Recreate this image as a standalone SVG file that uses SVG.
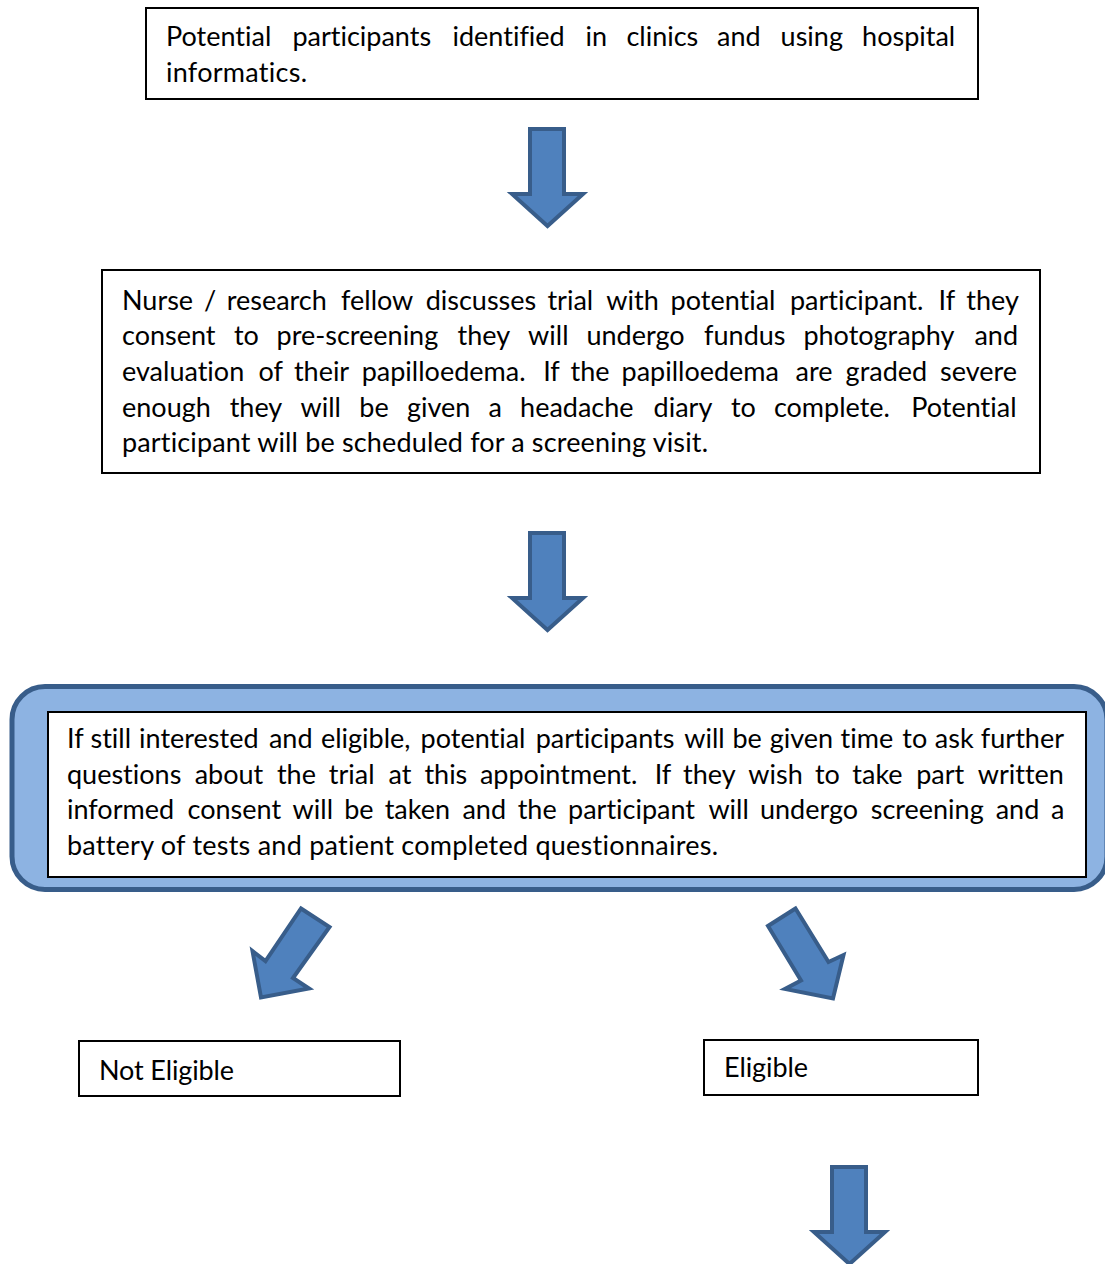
<svg xmlns="http://www.w3.org/2000/svg" xmlns:xlink="http://www.w3.org/1999/xlink" width="1105" height="1264" viewBox="0 0 1105 1264">
<style>
.box{fill:#ffffff;stroke:#000000;stroke-width:2}
.t{font-family:Lato,"Liberation Sans",sans-serif;font-size:27px;fill:#000000;font-variant-ligatures:none;font-feature-settings:"liga" 0,"clig" 0,"dlig" 0}
.arrow{fill:#4F81BD;stroke:#385D8A;stroke-width:4;stroke-linejoin:miter}
.panel{fill:#8DB3E2;stroke:#385D8A;stroke-width:5}
</style>
<defs>
<polygon id="downArrow" points="530,129 564,129 564,194 583,194 547.5,226 512,194 530,194"/>
</defs>
<rect width="1105" height="1264" fill="#ffffff"/>

<g id="node-identified">
<rect class="box" x="146" y="8" width="832" height="91"/>
<text class="t" y="46"><tspan x="166">Potential</tspan><tspan x="292.4">participants</tspan><tspan x="452.5">identified</tspan><tspan x="585.5">in</tspan><tspan x="626.4">clinics</tspan><tspan x="717">and</tspan><tspan x="780.6">using</tspan><tspan x="862.1">hospital</tspan></text>
<text class="t" x="166" y="81.7" textLength="141" lengthAdjust="spacing">informatics.</text>
</g>

<g id="node-prescreening">
<rect class="box" x="102" y="270" width="938" height="203"/>
<text class="t" y="309.5"><tspan x="122">Nurse</tspan><tspan x="204">/</tspan><tspan x="226.7">research</tspan><tspan x="341">fellow</tspan><tspan x="425.7">discusses</tspan><tspan x="547.4">trial</tspan><tspan x="606.3">with</tspan><tspan x="670.6">potential</tspan><tspan x="789.9">participant.</tspan><tspan x="938.6">If</tspan><tspan x="966.3">they</tspan></text>
<text class="t" y="345.2"><tspan x="122">consent</tspan><tspan x="233.9">to</tspan><tspan x="276.5">pre-screening</tspan><tspan x="457.6">they</tspan><tspan x="528.1">will</tspan><tspan x="586.5">undergo</tspan><tspan x="704.1">fundus</tspan><tspan x="803.4">photography</tspan><tspan x="974.4">and</tspan></text>
<text class="t" y="380.9"><tspan x="122">evaluation</tspan><tspan x="258.4">of</tspan><tspan x="293.9">their</tspan><tspan x="361.7">papilloedema.</tspan><tspan x="543.2">If</tspan><tspan x="570.6">the</tspan><tspan x="621.5">papilloedema</tspan><tspan x="795.6">are</tspan><tspan x="845.6">graded</tspan><tspan x="940.1">severe</tspan></text>
<text class="t" y="416.6"><tspan x="122">enough</tspan><tspan x="229.7">they</tspan><tspan x="300.5">will</tspan><tspan x="359.3">be</tspan><tspan x="407">given</tspan><tspan x="488.4">a</tspan><tspan x="520.1">headache</tspan><tspan x="653.6">diary</tspan><tspan x="730.9">to</tspan><tspan x="773.9">complete.</tspan><tspan x="911.3">Potential</tspan></text>
<text class="t" x="122" y="452.3" textLength="586" lengthAdjust="spacing">participant will be scheduled for a screening visit.</text>
</g>

<g id="node-screening">
<rect class="panel" x="12" y="686.5" width="1095" height="203" rx="33" ry="33"/>
<rect class="box" x="48" y="712" width="1038" height="165"/>
<text class="t" y="748"><tspan x="67">If</tspan><tspan x="90.5">still</tspan><tspan x="139.1">interested</tspan><tspan x="268.9">and</tspan><tspan x="320.9">eligible,</tspan><tspan x="420.6">potential</tspan><tspan x="535.7">participants</tspan><tspan x="684.2">will</tspan><tspan x="732.5">be</tspan><tspan x="769.7">given</tspan><tspan x="840.6">time</tspan><tspan x="902.3">to</tspan><tspan x="934.8">ask</tspan><tspan x="980.8">further</tspan></text>
<text class="t" y="783.7"><tspan x="67">questions</tspan><tspan x="194.7">about</tspan><tspan x="276.9">the</tspan><tspan x="328.8">trial</tspan><tspan x="388.4">at</tspan><tspan x="424.4">this</tspan><tspan x="479.9">appointment.</tspan><tspan x="654.7">If</tspan><tspan x="683.1">they</tspan><tspan x="748.3">wish</tspan><tspan x="814.9">to</tspan><tspan x="852.3">take</tspan><tspan x="916.2">part</tspan><tspan x="977.8">written</tspan></text>
<text class="t" y="819.4"><tspan x="67">informed</tspan><tspan x="187.6">consent</tspan><tspan x="292.6">will</tspan><tspan x="344.2">be</tspan><tspan x="384.7">taken</tspan><tspan x="462.4">and</tspan><tspan x="517.7">the</tspan><tspan x="568">participant</tspan><tspan x="708.4">will</tspan><tspan x="760">undergo</tspan><tspan x="870.7">screening</tspan><tspan x="995.7">and</tspan><tspan x="1051">a</tspan></text>
<text class="t" x="67" y="855.1" textLength="651" lengthAdjust="spacing">battery of tests and patient completed questionnaires.</text>
</g>

<g id="node-not-eligible">
<rect class="box" x="79" y="1041" width="321" height="55"/>
<text class="t" x="99" y="1079.5" textLength="135" lengthAdjust="spacing">Not Eligible</text>
</g>

<g id="node-eligible">
<rect class="box" x="704" y="1040" width="274" height="55"/>
<text class="t" x="724" y="1077" textLength="84" lengthAdjust="spacing">Eligible</text>
</g>

<g id="connectors">
<use href="#downArrow" xlink:href="#downArrow" class="arrow"/>
<use href="#downArrow" xlink:href="#downArrow" class="arrow" transform="translate(0,404)"/>
<use href="#downArrow" xlink:href="#downArrow" class="arrow" transform="translate(302,1038)"/>
<polygon class="arrow" points="301,908.5 329.5,927 293,978 309,988.5 261,997.5 252.5,951 265.5,961"/>
<polygon class="arrow" points="795.5,908.5 768,926 801,980.5 785,989 833,998.5 843.5,955 828.5,962"/>
</g>
</svg>
